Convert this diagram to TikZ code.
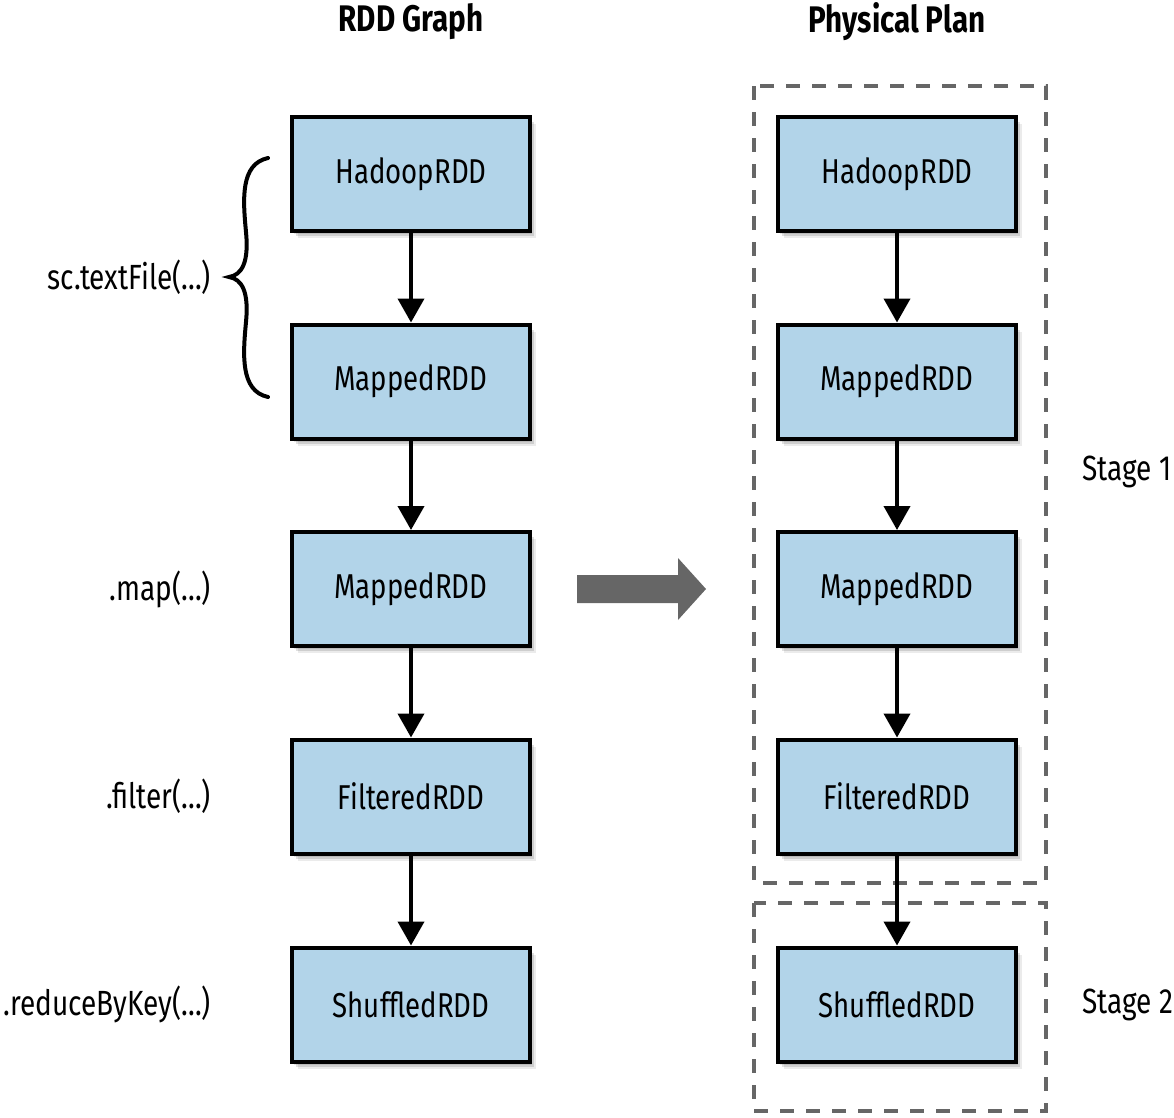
\documentclass[tikz,border=0pt]{standalone}
\usepackage{fontspec}
\setmainfont{Fira Sans}[FakeStretch=0.8]
\usetikzlibrary{arrows.meta,shadows}
\definecolor{boxblue}{RGB}{178,212,233}
\definecolor{dashgray}{RGB}{102,102,102}
\begin{document}
\begin{tikzpicture}[x=1pt,y=-1pt,
  rdd/.style={draw=black, line width=4pt, fill=boxblue, minimum width=238pt, minimum height=114pt, inner sep=0pt,
    font=\fontsize{34.5}{40}\selectfont,
    general shadow={shadow xshift=2pt,shadow yshift=-3pt,fill=black,opacity=0.10},
    general shadow={shadow xshift=4pt,shadow yshift=-5pt,fill=black,opacity=0.12},
    general shadow={shadow xshift=6pt,shadow yshift=-7pt,fill=black,opacity=0.08}},
  flow/.style={line width=4pt, -{Triangle[length=24pt,width=26pt]}},
  oplabel/.style={anchor=east, inner sep=0pt, font=\fontsize{35}{40}\selectfont},
  stagelabel/.style={anchor=west, inner sep=0pt, font=\fontsize{35}{40}\selectfont},
  title/.style={inner sep=0pt, font=\fontsize{37}{42}\selectfont\bfseries},
  stagebox/.style={draw=dashgray, line width=4.5pt, dash pattern=on 14pt off 12pt}
]
\useasboundingbox (0,0) rectangle (1174,1117);

% titles
\node[title] (t1) at (411,22) {RDD Graph};
\node[title] (t2) at (897,22) {Physical Plan};

% stage boxes
\draw[stagebox] (754,86) rectangle (1046,883);
\draw[stagebox] (754,903) rectangle (1046,1111);

% left column
\node[rdd] (l1) at (411,174) {HadoopRDD};
\node[rdd] (l2) at (411,381.5) {MappedRDD};
\node[rdd] (l3) at (411,589) {MappedRDD};
\node[rdd] (l4) at (411,796.5) {FilteredRDD};
\node[rdd] (l5) at (411,1004.5) {ShuffledRDD};

% right column
\node[rdd] (r1) at (897,174) {HadoopRDD};
\node[rdd] (r2) at (897,381.5) {MappedRDD};
\node[rdd] (r3) at (897,589) {MappedRDD};
\node[rdd] (r4) at (897,796.5) {FilteredRDD};
\node[rdd] (r5) at (897,1004.5) {ShuffledRDD};

\foreach \a/\b in {l1/l2,l2/l3,l3/l4,l4/l5,r1/r2,r2/r3,r3/r4,r4/r5}
  \draw[flow] (\a.south) -- (\b.north);

% operation labels
\node[oplabel] (o1) at (211,277) {sc.textFile(...)};
\node[oplabel] (o2) at (211,589) {.map(...)};
\node[oplabel] (o3) at (211,796.5) {.filter(...)};
\node[oplabel] (o4) at (211,1004.5) {.reduceByKey(...)};

% brace
\draw[line width=4pt, line cap=round]
  (268,158) .. controls (240,164) and (243,200) .. (246,232)
  .. controls (249,262) and (242,275) .. (229,277)
  .. controls (242,279) and (249,292) .. (246,322)
  .. controls (243,354) and (240,391) .. (268,397);

% big transform arrow
\fill[dashgray] (577,575) -- (678,575) -- (678,558) -- (706,589) -- (678,620) -- (678,603) -- (577,603) -- cycle;

% stage labels
\node[stagelabel] (s1) at (1082,472) {Stage 1};
\node[stagelabel] (s2) at (1082,1004.5) {Stage 2};
\end{tikzpicture}
\end{document}
